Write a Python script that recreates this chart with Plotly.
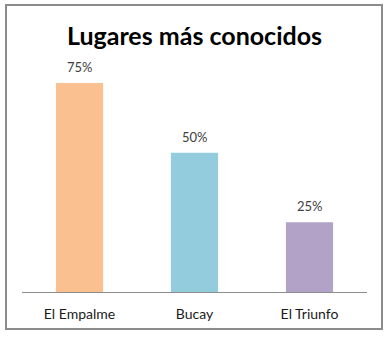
import plotly.graph_objects as go

categories = ["El Empalme", "Bucay", "El Triunfo"]
values = [75, 50, 25]
labels = ["75%", "50%", "25%"]
colors = ["#FAC090", "#93CDDD", "#B3A2C7"]

W, H = 389, 337
L, R, T, B = 22, 22, 41, 45
pw, ph = W - L - R, H - T - B

fig = go.Figure()
fig.add_trace(go.Bar(
    x=categories, y=values, marker=dict(color=colors, line=dict(width=0)),
    width=0.41, hoverinfo="skip",
))
for c, v, t in zip(categories, values, labels):
    fig.add_annotation(x=c, y=v, text=t, showarrow=False, yanchor="bottom",
                       yshift=6, font=dict(family="Lato", size=13, color="#404040"))

def px_x(p):
    return (p - L) / pw

def px_y(p):
    return (H - B - p) / ph

fig.add_shape(type="rect", xref="paper", yref="paper",
              x0=px_x(6), x1=px_x(382), y0=px_y(329), y1=px_y(5),
              line=dict(color="#8C8C8C", width=2), layer="below")

fig.update_layout(
    width=W, height=H, margin=dict(l=L, r=R, t=T, b=B),
    paper_bgcolor="white", plot_bgcolor="white", showlegend=False,
    title=dict(text="<b>Lugares más conocidos</b>", x=0.5, xanchor="center",
               y=1 - 36 / H, yanchor="middle",
               font=dict(family="Lato", size=25, color="#000000")),
    xaxis=dict(showline=True, linecolor="#8C8C8C", linewidth=1, ticks="",
               showgrid=False, ticklabelstandoff=9,
               tickfont=dict(family="Lato", size=14, color="#1a1a1a")),
    yaxis=dict(range=[0, ph / (209 / 75)], visible=False, showgrid=False),
)
fig.write_html("out.html")
